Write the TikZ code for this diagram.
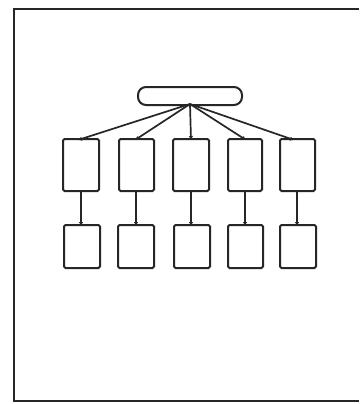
\documentclass[tikz,border=0pt]{standalone}
\usetikzlibrary{arrows.meta}
\begin{document}
\begin{tikzpicture}[x=1pt,y=-1pt,
  ink/.style={draw=black!85,line width=2pt},
  pill/.style={ink,rounded corners=8pt},
  boxa/.style={ink,rounded corners=1.5pt},
  conn/.style={draw=black!85,line width=1.7pt,-{Latex[length=4pt,width=4.5pt]}}]
\useasboundingbox (0,0) rectangle (359,404);
\fill[white] (0,0) rectangle (359,404);
% frame
\coordinate (ftl) at (14,9);
\coordinate (ftr) at (359,9);
\coordinate (fbl) at (14,401);
\coordinate (fbr) at (359,401);
\draw[ink] (ftr) -- (ftl) -- (fbl) -- (fbr);
% top pill
\node[pill,minimum width=104pt,minimum height=18pt,inner sep=0pt] (top) at (190,96) {};
\coordinate (apex) at (190,104);
% upper boxes
\foreach \i/\a/\b/\t in {1/63/99/78,2/119/154/135,3/173/209/191,4/228/262/246,5/280/315/294}{
  \draw[boxa] (\a,139) rectangle (\b,191);
  \coordinate (u\i) at (\t,140);
}
% lower boxes
\foreach \i/\a/\b in {1/64/100,2/118/154,3/174/210,4/228/263,5/280/316}{
  \draw[boxa] (\a,225) rectangle (\b,268);
}
\foreach \i/\x in {1/81,2/136,3/191,4/245,5/297}{
  \coordinate (s\i) at (\x,191);
  \coordinate (e\i) at (\x,226);
}
% connectors
\foreach \i in {1,...,5}{
  \draw[conn] (apex) -- (u\i);
  \draw[conn] (s\i) -- (e\i);
}
\end{tikzpicture}
\end{document}
